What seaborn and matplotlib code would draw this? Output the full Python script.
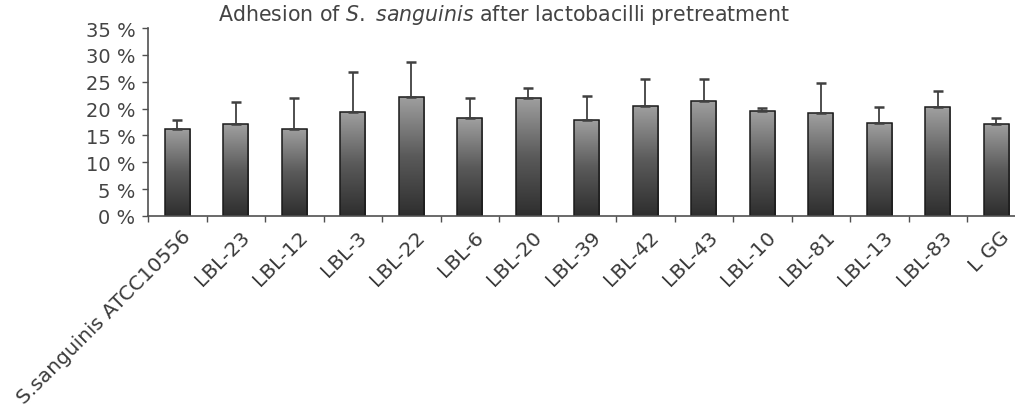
import numpy as np
import pandas as pd
import matplotlib
matplotlib.use("Agg")
import matplotlib.pyplot as plt
import matplotlib.transforms as mtransforms
import seaborn as sns
from matplotlib.ticker import FuncFormatter

strains = ["S.sanguinis ATCC10556", "LBL-23", "LBL-12", "LBL-3", "LBL-22", "LBL-6",
           "LBL-20", "LBL-39", "LBL-42", "LBL-43", "LBL-10", "LBL-81", "LBL-13",
           "LBL-83", "L GG"]
adhesion = [16.2, 17.1, 16.2, 19.4, 22.2, 18.2, 22.0, 17.9, 20.5, 21.5, 19.5, 19.1, 17.4, 20.2, 17.2]
upper = [17.8, 21.3, 22.0, 26.9, 28.6, 22.0, 23.8, 22.3, 25.5, 25.5, 20.1, 24.8, 20.2, 23.2, 18.3]
yticks = [0, 5, 10, 15, 20, 25, 30, 35]

df = pd.DataFrame({"strain": strains, "adhesion": adhesion, "upper": upper})
df["err"] = df["upper"] - df["adhesion"]

sns.set_theme(style="white")
plt.rcParams["font.family"] = ["DejaVu Sans"]

W, H = 1015, 414
fig = plt.figure(figsize=(W / 100, H / 100), dpi=100)
ax = fig.add_axes([148 / W, 197 / H, 877.5 / W, 188 / H])

sns.barplot(data=df, x="strain", y="adhesion", errorbar=None, width=0.43,
            color="gray", edgecolor="#1a1a1a", linewidth=1.1, ax=ax, zorder=2)

# gradient fill for each bar
grad = np.linspace(0, 1, 256).reshape(-1, 1)
cmap = matplotlib.colors.LinearSegmentedColormap.from_list("g", ["#2e2e2e", "#5a5a5a", "#a0a0a0"])
for p in ax.patches:
    x0, y0 = p.get_x(), p.get_y()
    w, h = p.get_width(), p.get_height()
    im = ax.imshow(grad, cmap=cmap, aspect="auto", origin="lower",
                   extent=[x0, x0 + w, y0, y0 + h], zorder=1.9, interpolation="bilinear")
    im.set_clip_path(p)
    p.set_facecolor("none")

xs = np.arange(len(df))
ax.errorbar(xs, df["adhesion"], yerr=[np.zeros(len(df)), df["err"]], fmt="none",
            ecolor="#404040", elinewidth=1.3, capsize=3.4, capthick=1.8, zorder=3)

ax.set_xlim(-0.5, len(df) - 0.5)
ax.set_ylim(0, 35)
ax.set_yticks(yticks)
ax.yaxis.set_major_formatter(FuncFormatter(lambda v, _: f"{int(v)} %"))
ax.set_xlabel("")
ax.set_ylabel("")

for s in ["top", "right"]:
    ax.spines[s].set_visible(False)
for s in ["left", "bottom"]:
    ax.spines[s].set_color("#505050")
    ax.spines[s].set_linewidth(1.2)

ax.tick_params(axis="y", which="major", left=True, length=4, width=1, color="#505050",
               labelsize=14, labelcolor="#444444", pad=5)
ax.set_xticks(np.arange(-0.5, len(df), 1), minor=True)
ax.tick_params(axis="x", which="minor", bottom=True, length=4, width=1, color="#505050")
ax.tick_params(axis="x", which="major", bottom=False, length=0, labelsize=14.5,
               labelcolor="#3a3a3a", pad=4)
offset = mtransforms.ScaledTranslation(4 / 100, -5 / 100, fig.dpi_scale_trans)
for lab in ax.get_xticklabels():
    lab.set_rotation(45)
    lab.set_ha("right")
    lab.set_rotation_mode("anchor")
    lab.set_transform(lab.get_transform() + offset)

fig.text(504 / W, 1 - 15 / H,
         r"Adhesion of $\it{S.\ sanguinis}$ after lactobacilli pretreatment",
         ha="center", va="center", fontsize=14.8, color="#444444")

fig.savefig("out.png", dpi=100)
